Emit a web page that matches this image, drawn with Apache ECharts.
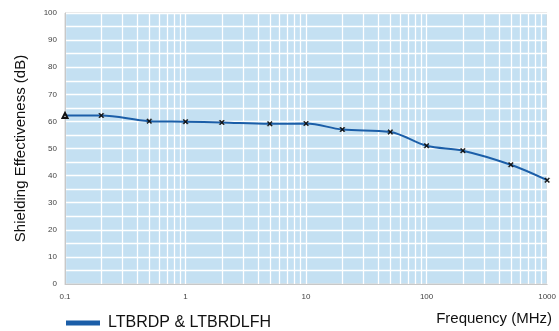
<!DOCTYPE html>
<html>
<head>
<meta charset="utf-8">
<script src="https://cdn.jsdelivr.net/npm/echarts@6/dist/echarts.min.js"></script>
<style>
  html, body { margin: 0; padding: 0; background: #fff; }
  #chart { width: 559px; height: 331px; }
</style>
</head>
<body>
<div id="chart"></div>
<script>
// Measured shielding effectiveness vs frequency
const frequencies = [0.1, 0.2, 0.5, 1, 2, 5, 10, 20, 50, 100, 200, 500, 1000];
const shielding = [62.2, 62.2, 60.1, 59.9, 59.6, 59.1, 59.2, 57.0, 56.1, 51.0, 49.2, 44.0, 38.3];
const xTickLabels = ['0.1', '1', '10', '100', '1000'];
const minorDecadeSteps = [2, 3, 4, 5, 6, 7, 8, 9];
const decades = [0.1, 1, 10, 100];
const seriesName = 'LTBRDP & LTBRDLFH';
const lineColor = '#1b5ea8';

const crossPath = 'path://M0,1.5 L1.5,0 L5,3.5 L8.5,0 L10,1.5 L6.5,5 L10,8.5 L8.5,10 L5,6.5 L1.5,10 L0,8.5 L3.5,5 Z';

const minorLines = [];
decades.forEach(d => minorDecadeSteps.forEach(s => minorLines.push({ xAxis: +(d * s).toPrecision(3) })));

const points = frequencies.map((f, i) => {
  const p = { value: [f, shielding[i]] };
  if (i === 0) { p.symbol = 'emptyTriangle'; p.symbolSize = 5; }
  return p;
});

const chart = echarts.init(document.getElementById('chart'));
chart.setOption({
  animation: false,
  textStyle: { fontFamily: 'Liberation Sans, Arial, sans-serif' },
  grid: {
    left: 65, right: 11, top: 13, bottom: 47,
    show: true, backgroundColor: '#c4e0f2', borderColor: '#c8c8c8', borderWidth: 1
  },
  xAxis: {
    type: 'log', logBase: 10, min: 0.1, max: 1000, interval: 1,
    axisLine: { show: true, lineStyle: { color: '#c8c8c8', width: 1 } },
    axisTick: { show: false },
    axisLabel: {
      fontSize: 8, color: '#444', margin: 9,
      formatter: v => { const s = String(+v.toPrecision(3)); return xTickLabels.includes(s) ? s : ''; }
    },
    splitLine: { show: true, lineStyle: { color: '#ffffff', width: 1.3 } },
    minorSplitLine: { show: false }
  },
  yAxis: {
    type: 'value', min: 0, max: 100, interval: 10,
    name: 'Shielding Effectiveness (dB)', nameLocation: 'middle', nameGap: 37,
    nameTextStyle: { fontSize: 15, color: '#111' },
    axisLine: { show: true, lineStyle: { color: '#c8c8c8', width: 1 } },
    axisTick: { show: false },
    axisLabel: { fontSize: 8, color: '#444', margin: 8 },
    splitLine: { show: true, lineStyle: { color: '#ffffff', width: 1.3 } },
    minorTick: { show: false, splitNumber: 2 },
    minorSplitLine: { show: true, lineStyle: { color: '#ffffff', width: 1.3 } }
  },
  legend: {
    left: 61, top: 310,
    icon: 'rect', itemWidth: 34, itemHeight: 5, itemGap: 10,
    itemStyle: { color: lineColor, borderWidth: 0 },
    textStyle: { fontSize: 16, color: '#111', padding: [0, 0, 0, 3] },
    data: [seriesName]
  },
  graphic: [{
    type: 'text', right: 7, top: 311,
    style: { text: 'Frequency (MHz)', fontSize: 15, fill: '#111', fontFamily: 'Liberation Sans, Arial, sans-serif' }
  }],
  series: [
    {
      // minor decade grid lines (2..9 within each decade)
      type: 'line', data: [], silent: true, z: 1,
      markLine: {
        silent: true, symbol: 'none', label: { show: false }, z: 1,
        lineStyle: { color: '#ffffff', width: 1.3, type: 'solid' },
        data: minorLines, animation: false
      }
    },
    {
      name: seriesName, type: 'line', z: 6,
      data: points, smooth: 0.35,
      symbol: crossPath, symbolSize: 5,
      lineStyle: { color: lineColor, width: 2 },
      itemStyle: { color: '#111', borderColor: '#111', borderWidth: 0.5 }
    }
  ]
});
</script>
</body>
</html>
